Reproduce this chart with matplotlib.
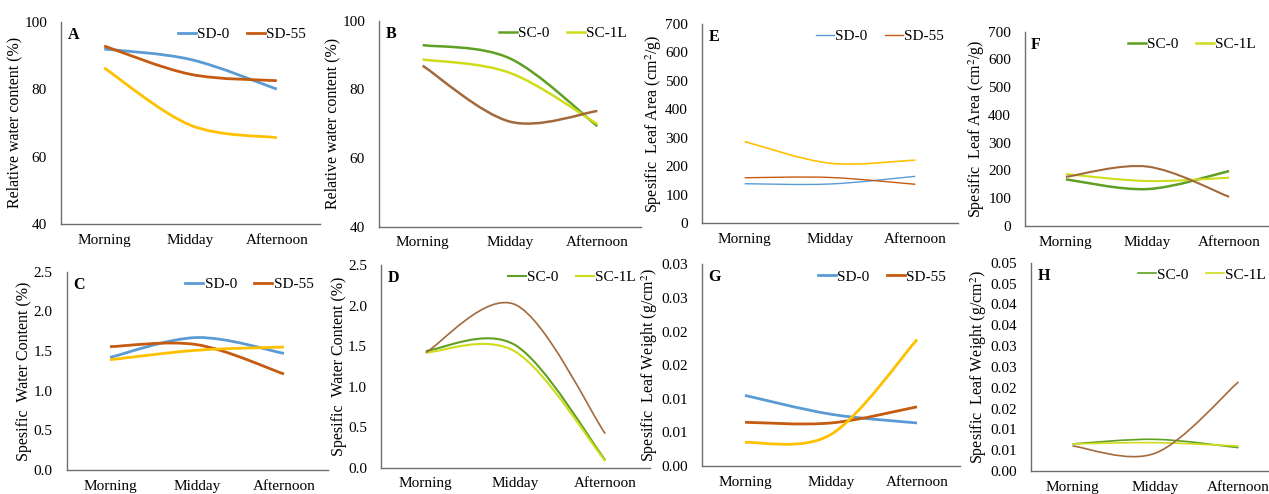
import matplotlib
matplotlib.use("Agg")
import matplotlib.pyplot as plt
from matplotlib.path import Path
from matplotlib.patches import PathPatch
from matplotlib.lines import Line2D

plt.rcParams['font.family'] = ['Liberation Serif', 'DejaVu Serif']
plt.rcParams['font.size'] = 11
plt.rcParams['mathtext.fontset'] = 'stix'

times = ["Morning", "Midday", "Afternoon"]

# A - relative water content, SD
rwc_sd0 = [91.9, 88.8, 80.0]
rwc_sd55 = [92.8, 84.4, 82.5]
rwc_sd_x = [86.3, 69.3, 65.6]
# B - relative water content, SC
rwc_sc0 = [92.9, 89.0, 69.3]
rwc_sc1l = [88.7, 84.8, 69.9]
rwc_sc_x = [86.9, 70.6, 73.7]
# C - specific water content, SD
swc_sd0 = [1.42, 1.67, 1.47]
swc_sd55 = [1.555, 1.58, 1.21]
swc_sd_x = [1.39, 1.51, 1.55]
# D - specific water content, SC
swc_sc0 = [1.44, 1.51, 0.095]
swc_sc1l = [1.42, 1.43, 0.083]
swc_sc_x = [1.42, 2.01, 0.42]
# E - specific leaf area, SD
sla_sd0 = [139, 138, 165]
sla_sd55 = [160, 161, 137]
sla_sd_x = [287, 211, 222]
# F - specific leaf area, SC
sla_sc0 = [168, 133, 198]
sla_sc1l = [187, 162, 174]
sla_sc_x = [177, 214, 105]
# G - specific leaf weight, SD
slw_sd0 = [0.0105, 0.0077, 0.0064]
slw_sd55 = [0.0065, 0.0064, 0.0088]
slw_sd_x = [0.0035, 0.0047, 0.0188]
# H - specific leaf weight, SC
slw_sc0 = [0.0065, 0.0076, 0.0056]
slw_sc1l = [0.0065, 0.0068, 0.0060]
slw_sc_x = [0.0060, 0.0043, 0.0214]

g_ticks = [0, 0.005, 0.01, 0.015, 0.02, 0.025, 0.03]
g_ticklabels = ["0.00", "0.01", "0.01", "0.02", "0.02", "0.03", "0.03"]
h_ticks = [0, 0.005, 0.01, 0.015, 0.02, 0.025, 0.03, 0.035, 0.04, 0.045, 0.05]
h_ticklabels = ["0.00", "0.01", "0.01", "0.02", "0.02", "0.03", "0.03",
                "0.04", "0.04", "0.05", "0.05"]

BLUE = "#5B9BD5"
ORANGE = "#C55A11"
YELLOW = "#FFC000"
GREEN = "#5FA022"
LIME = "#CFDC1C"
BROWN = "#A26A3C"

W, H = 1269, 494
fig = plt.figure(figsize=(W / 100, H / 100), dpi=100)


def make_ax(l, b, r, t):
    return fig.add_axes([l / W, 1 - b / H, (r - l) / W, (b - t) / H])


def smooth(ax, ys, color, lw):
    # excel-style smoothed line: catmull-rom segments as cubic beziers
    xs = list(range(len(ys)))
    pts = list(zip(xs, ys))
    verts = [pts[0]]
    codes = [Path.MOVETO]
    for i in range(len(pts) - 1):
        p0 = pts[max(i - 1, 0)]
        p1 = pts[i]
        p2 = pts[i + 1]
        p3 = pts[min(i + 2, len(pts) - 1)]
        c1 = (p1[0] + (p2[0] - p0[0]) / 6, p1[1] + (p2[1] - p0[1]) / 6)
        c2 = (p2[0] - (p3[0] - p1[0]) / 6, p2[1] - (p3[1] - p1[1]) / 6)
        verts += [c1, c2, p2]
        codes += [Path.CURVE4] * 3
    ax.add_patch(PathPatch(Path(verts, codes), fill=False, edgecolor=color,
                           lw=lw, capstyle='butt'))


def style(ax, letter, ylim, yticks, ylabel, ticklabels=None):
    ax.set_xlim(-0.5, 2.5)
    ax.set_ylim(*ylim)
    ax.set_xticks(range(3))
    ax.set_xticklabels(times)
    ax.set_yticks(yticks)
    if ticklabels is not None:
        ax.set_yticklabels(ticklabels)
    ax.tick_params(length=0, labelsize=11)
    ax.tick_params(axis='y', pad=10)
    ax.tick_params(axis='x', pad=7)
    for s in ['top', 'right']:
        ax.spines[s].set_visible(False)
    for s in ['left', 'bottom']:
        ax.spines[s].set_color('#6e6e6e')
        ax.spines[s].set_linewidth(1.0)
    ax.set_ylabel(ylabel, fontsize=11.5, labelpad=1)
    ax.text(0.025, 0.975, letter, transform=ax.transAxes, fontweight='bold',
            fontsize=11.5, va='top', ha='left')


def legend(ax, labels, colors, lw):
    handles = [Line2D([], [], color=c, lw=lw) for c in colors]
    ax.legend(handles, labels, loc='upper right', bbox_to_anchor=(1.0, 1.04),
              ncol=2, frameon=False, handlelength=1.2, handletextpad=0.1,
              columnspacing=1.1, fontsize=11)


# A
ax = make_ax(61, 224, 320, 21.7)
smooth(ax, rwc_sd0, BLUE, 2.0)
smooth(ax, rwc_sd55, ORANGE, 2.0)
smooth(ax, rwc_sd_x, YELLOW, 2.0)
style(ax, "A", (40, 100), [40, 60, 80, 100], "Relative water content (%)")
legend(ax, ["SD-0", "SD-55"], [BLUE, ORANGE], 2.0)

# B
ax = make_ax(379, 226.7, 641, 20.7)
smooth(ax, rwc_sc0, GREEN, 1.8)
smooth(ax, rwc_sc1l, LIME, 1.8)
smooth(ax, rwc_sc_x, BROWN, 1.8)
style(ax, "B", (40, 100), [40, 60, 80, 100], "Relative water content (%)")
legend(ax, ["SC-0", "SC-1L"], [GREEN, LIME], 1.8)

# E
ax = make_ax(702, 223.3, 958, 24)
smooth(ax, sla_sd0, BLUE, 1.0)
smooth(ax, sla_sd55, ORANGE, 1.0)
smooth(ax, sla_sd_x, YELLOW, 1.2)
style(ax, "E", (0, 700), range(0, 701, 100),
      "Spesific  Leaf Area (cm$^2$/g)")
legend(ax, ["SD-0", "SD-55"], [BLUE, ORANGE], 1.0)

# F
ax = make_ax(1025, 226, 1270, 31.7)
smooth(ax, sla_sc0, GREEN, 1.8)
smooth(ax, sla_sc1l, LIME, 1.5)
smooth(ax, sla_sc_x, BROWN, 1.5)
style(ax, "F", (0, 700), range(0, 701, 100),
      "Spesific  Leaf Area (cm$^2$/g)")
legend(ax, ["SC-0", "SC-1L"], [GREEN, LIME], 1.8)

# C
ax = make_ax(66.5, 470, 327.5, 271.7)
smooth(ax, swc_sd0, BLUE, 2.0)
smooth(ax, swc_sd55, ORANGE, 2.0)
smooth(ax, swc_sd_x, YELLOW, 2.0)
style(ax, "C", (0, 2.5), [0, 0.5, 1.0, 1.5, 2.0, 2.5],
      "Spesific  Water Content (%)",
      ["0.0", "0.5", "1.0", "1.5", "2.0", "2.5"])
legend(ax, ["SD-0", "SD-55"], [BLUE, ORANGE], 2.0)

# D
ax = make_ax(381, 467.7, 650, 265)
smooth(ax, swc_sc0, GREEN, 1.5)
smooth(ax, swc_sc1l, LIME, 1.5)
smooth(ax, swc_sc_x, BROWN, 1.2)
style(ax, "D", (0, 2.5), [0, 0.5, 1.0, 1.5, 2.0, 2.5],
      "Spesific  Water Content (%)",
      ["0.0", "0.5", "1.0", "1.5", "2.0", "2.5"])
legend(ax, ["SC-0", "SC-1L"], [GREEN, LIME], 1.5)

# G
ax = make_ax(702, 466, 960, 264.3)
smooth(ax, slw_sd0, BLUE, 2.0)
smooth(ax, slw_sd55, ORANGE, 2.0)
smooth(ax, slw_sd_x, YELLOW, 2.0)
style(ax, "G", (0, 0.03), g_ticks,
      "Spesific  Leaf Weight (g/cm$^2$)", g_ticklabels)
legend(ax, ["SD-0", "SD-55"], [BLUE, ORANGE], 2.0)

# H
ax = make_ax(1031, 471, 1280, 262.7)
smooth(ax, slw_sc0, GREEN, 1.2)
smooth(ax, slw_sc1l, LIME, 1.2)
smooth(ax, slw_sc_x, BROWN, 1.2)
style(ax, "H", (0, 0.05), h_ticks,
      "Spesific  Leaf Weight (g/cm$^2$)", h_ticklabels)
legend(ax, ["SC-0", "SC-1L"], [GREEN, LIME], 1.2)

fig.savefig("out.png", dpi=100)
